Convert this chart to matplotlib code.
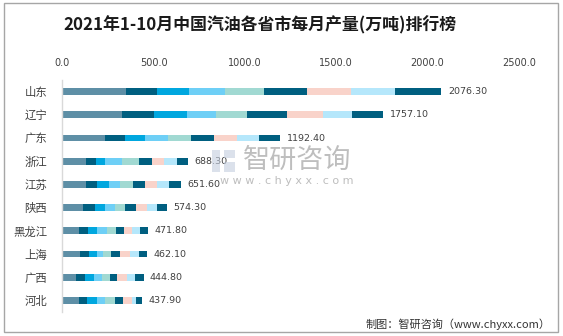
import matplotlib
matplotlib.use("Agg")
import matplotlib.pyplot as plt
import numpy as np
from matplotlib.patches import Rectangle

plt.rcParams["font.family"] = ["Noto Sans CJK SC", "DejaVu Sans"]

# monthly gasoline output by province, 10k tonnes (Jan-Feb reported together)
provinces = ["山东", "辽宁", "广东", "浙江", "江苏", "陕西", "黑龙江", "上海", "广西", "河北"]
periods = ["1-2月", "3月", "4月", "5月", "6月", "7月", "8月", "9月", "10月"]

m01_02 = [347.6, 325.0, 232.0, 128.4, 127.3, 111.2, 91.4, 96.4, 76.3, 91.2]
m03 = [171.6, 179.6, 111.0, 54.9, 63.7, 65.6, 51.2, 49.1, 47.2, 45.6]
m04 = [175.4, 175.8, 109.5, 52.7, 63.7, 54.7, 49.4, 45.5, 49.0, 51.1]
m05 = [197.4, 160.0, 126.0, 93.3, 63.7, 56.5, 51.2, 30.9, 43.6, 47.4]
m06 = [213.8, 172.0, 124.3, 90.0, 67.4, 56.5, 49.4, 43.7, 43.6, 51.1]
m07 = [234.1, 219.9, 126.0, 73.0, 67.4, 58.3, 47.6, 50.9, 41.8, 47.4]
m08 = [242.9, 193.8, 126.0, 65.9, 67.4, 60.2, 43.9, 54.6, 50.8, 45.6]
m09 = [241.2, 160.0, 123.8, 71.4, 65.5, 52.9, 43.9, 49.1, 43.6, 23.7]
m10 = [252.3, 171.0, 113.8, 58.7, 65.5, 58.4, 43.8, 41.9, 48.9, 34.8]

period_colors = ["#5E8FA6", "#005F80", "#00A7DF", "#6ECFF6", "#A1D9D2",
                 "#005F80", "#F9D3CA", "#B5E7FB", "#005F80"]

series = [m01_02, m03, m04, m05, m06, m07, m08, m09, m10]

fig = plt.figure(figsize=(5.63, 3.36), dpi=100)
ax = fig.add_axes([0.1107, 0.0714, 0.8108, 0.6905])

y = np.arange(len(provinces))
left = np.zeros(len(provinces))
for vals, color, label in zip(series, period_colors, periods):
    vals = np.array(vals)
    ax.barh(y, vals, left=left, height=0.3, color=color, label=label, linewidth=0)
    left += vals

for yi, total in zip(y, left):
    ax.text(total + 35, yi, f"{total:.2f}", va="center", ha="left",
            fontsize=6.8, color="#404040", family="DejaVu Sans", zorder=7)

ax.set_xlim(0, 2500)
ax.set_ylim(len(provinces) - 0.5, -0.5)
ax.set_yticks(y)
ax.set_yticklabels(provinces, fontsize=8.2, color="#404040")
ax.xaxis.tick_top()
ax.set_xticks(np.arange(0, 2501, 500))
ax.set_xticklabels([f"{v:.1f}" for v in np.arange(0, 2501, 500)],
                   fontsize=7, color="#404040", family="DejaVu Sans")
ax.tick_params(axis="both", length=0)
ax.tick_params(axis="x", pad=9)
ax.tick_params(axis="y", pad=11)
for side in ["top", "right", "bottom"]:
    ax.spines[side].set_visible(False)
ax.spines["left"].set_color("#d9d9d9")
ax.spines["left"].set_linewidth(1)

W, H = 563, 336
fig.text(260 / W, 1 - 25 / H, "2021年1-10月中国汽油各省市每月产量(万吨)排行榜",
         ha="center", va="center", fontsize=12.2, fontweight="bold", color="#1a1a1a")

# watermark
for (x0, y0, w, h) in [(212, 172, 8, 22), (224, 172, 11, 10), (224, 158, 11, 8)]:
    fig.patches.append(Rectangle((x0 / W, 1 - y0 / H), w / W, h / H, transform=fig.transFigure,
                                 facecolor="#c3cedf", alpha=0.6, linewidth=0, zorder=1))
fig.text(243 / W, 1 - 160 / H, "智研咨询", ha="left", va="center", fontsize=19.5,
         color="#a8a8a8", alpha=0.75, zorder=1)
fig.text(220 / W, 1 - 181 / H, "w w w . c h y x x . c o m", ha="left", va="center",
         fontsize=8, color="#a8a8a8", alpha=0.75, zorder=1, family="DejaVu Sans")

fig.text(551 / W, 1 - 324 / H, "制图：智研咨询（www.chyxx.com）", ha="right", va="center",
         fontsize=8.0, color="#333333")

# outer frame
fig.patches.append(Rectangle((3.5 / W, 4.5 / H), 554 / W, 329 / H, transform=fig.transFigure,
                             fill=False, edgecolor="#a6a6a6", linewidth=1))

fig.savefig("out.png", dpi=100)
